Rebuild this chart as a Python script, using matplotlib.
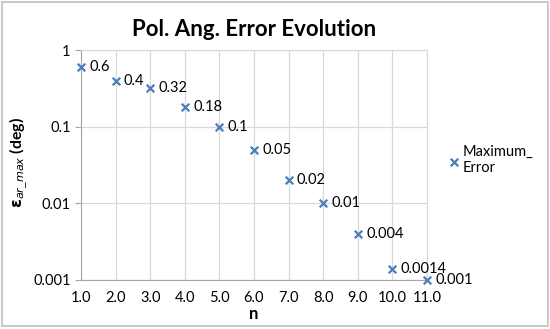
import matplotlib
matplotlib.use("Agg")
import matplotlib.pyplot as plt
from matplotlib.patches import Rectangle

plt.rcParams['font.family'] = ['Lato', 'DejaVu Sans']
plt.rcParams['mathtext.fontset'] = 'dejavusans'

# data
n = [1, 2, 3, 4, 5, 6, 7, 8, 9, 10, 11]
max_error = [0.6, 0.4, 0.32, 0.18, 0.1, 0.05, 0.02, 0.01, 0.004, 0.0014, 0.001]
point_labels = ['0.6', '0.4', '0.32', '0.18', '0.1', '0.05', '0.02', '0.01', '0.004', '0.0014', '0.001']
y_ticks = [1, 0.1, 0.01, 0.001]
y_ticklabels = ['1', '0.1', '0.01', '0.001']

blue = '#4A7EBB'
grid_c = '#D9D9D9'
axis_c = '#A6A6A6'

fig = plt.figure(figsize=(5.5, 3.29), dpi=100)
ax = fig.add_axes([0.1473, 0.149, 0.629, 0.699])

ax.scatter(n, max_error, marker='x', s=30, color=blue, linewidths=1.6, zorder=3,
           clip_on=False, label='Maximum_\nError')
for x, y, t in zip(n, max_error, point_labels):
    ax.annotate(t, (x, y), xytext=(6, 0), textcoords='offset points', va='center', ha='left',
                fontsize=10.5, annotation_clip=False)

ax.set_yscale('log')
ax.set_ylim(0.001, 1)
ax.set_xlim(1, 11)
ax.set_yticks(y_ticks)
ax.set_yticklabels(y_ticklabels)
ax.minorticks_off()
ax.set_xticks(n)
ax.set_xticklabels(['%.1f' % v for v in n])
ax.tick_params(labelsize=10.5, colors=axis_c, labelcolor='black', length=4, width=0.8)
ax.tick_params(axis='x', length=0, pad=8)

ax.grid(True, color=grid_c, lw=0.9)
ax.set_axisbelow(True)
for s in ['top', 'right']:
    ax.spines[s].set_color(grid_c)
for s in ['left', 'bottom']:
    ax.spines[s].set_color(axis_c)

ax.set_title('Pol. Ang. Error Evolution', fontsize=16, fontweight='bold', pad=10)
ax.set_xlabel('n', fontsize=12, fontweight='bold', labelpad=1)
fig.text(0.034, 0.505, r'$\mathbf{\varepsilon}_{\mathit{ar\_max}}$ (deg)', rotation=90,
         ha='center', va='center', fontsize=11.5, fontweight='bold')

ax.legend(loc='center left', bbox_to_anchor=(1.035, 0.52), frameon=False, fontsize=10.5,
          handletextpad=0.1, handlelength=1.0, borderpad=0)

fig.patches.append(Rectangle((0.004, 0.01), 0.992, 0.985, transform=fig.transFigure,
                             fill=False, edgecolor='#BFBFBF', lw=1.2))

fig.savefig('out.png', dpi=100)
